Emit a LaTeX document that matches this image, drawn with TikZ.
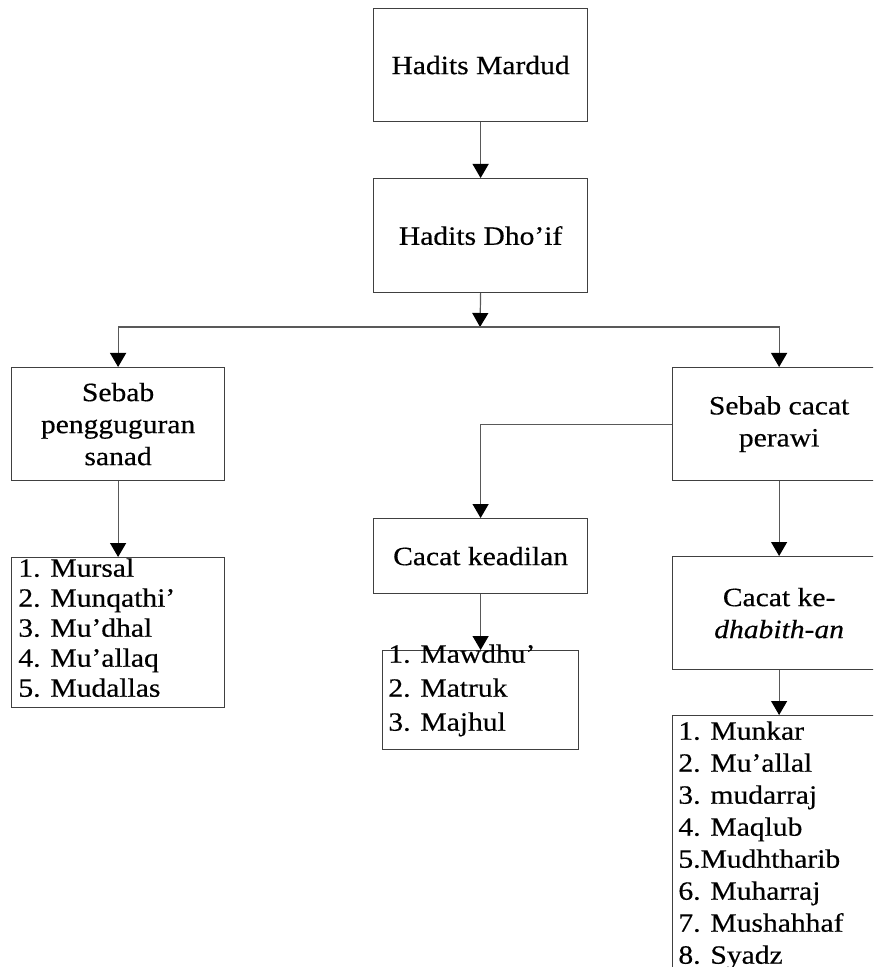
\documentclass[tikz,border=0pt]{standalone}
\usepackage{fontspec}
\setmainfont[FakeStretch=1.12,FakeBold=0.4]{Liberation Serif}
\usetikzlibrary{arrows.meta}

\tikzset{
  box/.style={draw=black!75, line width=0.6pt, anchor=north west, align=center, inner sep=2pt, font=\fontsize{13.2pt}{16pt}\selectfont},
  listbox/.style={draw=black!75, line width=0.6pt, anchor=north west, inner sep=0pt},
  listtext/.style={anchor=north west, align=left, inner sep=0pt, font=\fontsize{13.2pt}{15pt}\selectfont},
  link/.style={draw=black!65, line width=0.6pt, -{Triangle[width=8pt,length=7pt,color=black]}},
}

\begin{document}
\begin{tikzpicture}[x=0.5pt,y=0.5pt,yscale=-1,xscale=1]

\useasboundingbox (0,0) rectangle (873,967);
\clip (0,0) rectangle (873,967);

% Text Node
\node [box, minimum width=107pt, minimum height=56.5pt] (mardud) at (373,8) {Hadits Mardud};
% Text Node
\node [box, minimum width=107pt, minimum height=57pt] (dhoif) at (373,178) {Hadits Dho’if};
% Text Node
\node [box, minimum width=106.5pt, minimum height=56.5pt] (sanad) at (11,367) {Sebab\\pengguguran\\sanad};
% Text Node
\node [box, minimum width=106.5pt, minimum height=56.5pt] (perawi) at (672,367) {Sebab cacat\\perawi};
% Text Node
\node [box, minimum width=107pt, minimum height=37.5pt] (keadilan) at (373,518) {Cacat keadilan};
% Text Node
\node [box, minimum width=106.5pt, minimum height=56.5pt] (dhabith) at (672,556) {Cacat ke-\\\textit{dhabith-an}};

% List boxes
\node [listbox, minimum width=106.5pt, minimum height=75pt] (listsanad) at (11,557) {};
\node [listbox, minimum width=98pt, minimum height=49.5pt] (listadil) at (382,650) {};
\node [listbox, minimum width=106.5pt, minimum height=150pt] (listdhabith) at (672,715) {};

% List texts
\node [listtext] (textsanad) at (18,558) {1. Mursal\\2. Munqathi’\\3. Mu’dhal\\4. Mu’allaq\\5. Mudallas};
\node [listtext, font=\fontsize{13.2pt}{17pt}\selectfont] (textadil) at (388,644) {1. Mawdhu’\\2. Matruk\\3. Majhul};
\node [listtext, font=\fontsize{13.2pt}{16pt}\selectfont] (textdhabith) at (678,721) {1. Munkar\\2. Mu’allal\\3. mudarraj\\4. Maqlub\\5.Mudhtharib\\6. Muharraj\\7. Mushahhaf\\8. Syadz};

% Connectors
\coordinate (split) at (480,327);
\draw [link] (mardud.south) -- (dhoif.north);
\draw [link] (dhoif.south) -- (split);
\draw [link] (split) -| (sanad.north);
\draw [link] (split) -| (perawi.north);
\draw [link] (sanad.south) -- (listsanad.north);
\draw [link] (perawi.west) -| (keadilan.north);
\draw [link] (keadilan.south) -- (listadil.north);
\draw [link] (perawi.south) -- (dhabith.north);
\draw [link] (dhabith.south) -- (listdhabith.north);

\end{tikzpicture}
\end{document}
